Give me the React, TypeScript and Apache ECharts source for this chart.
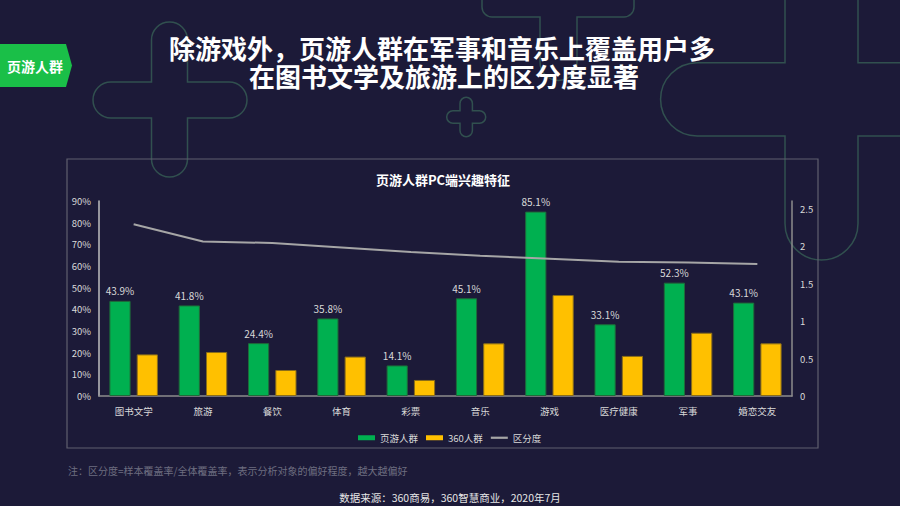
import React, { useEffect, useRef } from "react";
import * as echarts from "echarts";

const categories = ["图书文学", "旅游", "餐饮", "体育", "彩票", "音乐", "游戏", "医疗健康", "军事", "婚恋交友"];
const pageGameUsers = [43.9, 41.8, 24.4, 35.8, 14.1, 45.1, 85.1, 33.1, 52.3, 43.1];
const users360 = [19.2, 20.3, 12.0, 18.2, 7.4, 24.3, 46.6, 18.5, 29.2, 24.3];
const distinction = [2.29, 2.06, 2.04, 1.98, 1.92, 1.87, 1.83, 1.79, 1.78, 1.76];
const seriesNames = ["页游人群", "360人群", "区分度"];

const FONT = "'Noto Sans CJK SC', 'Noto Sans', sans-serif";
const BG = "#1c1a38";
const DECO = "#31504f";

const shapeA =
  "M151.5,40 A18,18 0 0 1 187.5,40 L187.5,82 L229,82 A18,18 0 0 1 229,118 L187.5,118 L187.5,159 A18,18 0 0 1 151.5,159 L151.5,118 L111,118 A18,18 0 0 1 111,82 L151.5,82 Z";
const shapeB =
  "M460,103.5 A6.2,6.2 0 0 1 472.4,103.5 L472.4,110.8 L479.5,110.8 A6.2,6.2 0 0 1 479.5,123.2 L472.4,123.2 L472.4,130.5 A6.2,6.2 0 0 1 460,130.5 L460,123.2 L452.9,123.2 A6.2,6.2 0 0 1 452.9,110.8 L460,110.8 Z";
const shapeC =
  "M482,-5 L482,7 A10,10 0 0 0 492,17 L540,17 L540,62 A18.5,18.5 0 0 0 577,62 L577,17 L624,17 A10,10 0 0 0 634,7 L634,-5";
const shapeD =
  "M785,-5 L785,62.7 L697.2,62.7 A36.6,36.6 0 0 0 697.2,136 L785,136 L785,223.5 A36.5,36.5 0 0 0 858,223.5 L858,136 L905,136 M905,62.7 L858,62.7 L858,-5";

let registered = false;
function registerShapes() {
  if (registered) return;
  registered = true;
  echarts.graphic.registerShape("decoA", echarts.graphic.extendPath(shapeA, {}));
  echarts.graphic.registerShape("decoB", echarts.graphic.extendPath(shapeB, {}));
  echarts.graphic.registerShape("decoC", echarts.graphic.extendPath(shapeC, {}));
  echarts.graphic.registerShape("decoD", echarts.graphic.extendPath(shapeD, {}));
}

function txt(text: string, x: number, y: number, size: number, color: string, weight: string, align: string) {
  return {
    type: "text",
    z: 10,
    style: {
      text,
      x,
      y,
      fill: color,
      fontSize: size,
      fontWeight: weight,
      fontFamily: FONT,
      align,
      textAlign: align,
      verticalAlign: "middle",
      textVerticalAlign: "middle",
    },
  };
}

export default function App() {
  const ref = useRef<HTMLDivElement>(null);
  useEffect(() => {
    document.body.style.margin = "0";
    registerShapes();
    const chart = echarts.init(ref.current!, null, { renderer: "svg" });
    const decoStyle = { fill: "none", stroke: DECO, lineWidth: 1.5 };
    chart.setOption({
      animation: false,
      backgroundColor: BG,
      textStyle: { fontFamily: FONT },
      grid: { left: 99, right: 108, top: 201, bottom: 110, containLabel: false },
      legend: {
        data: [
          { name: seriesNames[0], icon: "rect", itemStyle: { borderWidth: 0 } },
          { name: seriesNames[1], icon: "rect", itemStyle: { borderWidth: 0 } },
          { name: seriesNames[2], icon: "path://M0,0h20v2.6h-20z", itemStyle: { color: "#a6a6a6", borderWidth: 0 } },
        ],
        left: 353,
        top: 428,
        itemWidth: 17,
        itemHeight: 5,
        itemGap: 8,
        textStyle: { color: "#d9d9d9", fontSize: 9.5, fontFamily: FONT },
      },
      xAxis: {
        type: "category",
        data: categories,
        axisTick: { show: false },
        axisLine: { lineStyle: { color: "#8c8c8c", width: 1.5 } },
        axisLabel: { color: "#d9d9d9", fontSize: 9.5, margin: 10, interval: 0, fontFamily: FONT },
      },
      yAxis: [
        {
          type: "value",
          min: 0,
          max: 90,
          interval: 10,
          axisLine: { show: true, lineStyle: { color: "#bfbfbf", width: 1.5 } },
          axisTick: { show: false },
          splitLine: { show: false },
          axisLabel: { color: "#d9d9d9", fontSize: 9.5, margin: 8, formatter: "{value}%", fontFamily: FONT },
        },
        {
          type: "value",
          min: 0,
          max: 2.6,
          interval: 0.5,
          axisLine: { show: true, lineStyle: { color: "#8c8c8c", width: 1.5 } },
          axisTick: { show: false },
          splitLine: { show: false },
          axisLabel: { color: "#d9d9d9", fontSize: 9.5, margin: 8, showMaxLabel: false, fontFamily: FONT },
        },
      ],
      series: [
        {
          name: seriesNames[0],
          type: "bar",
          data: pageGameUsers,
          barGap: "29%",
          barCategoryGap: "30%",
          itemStyle: { color: "#00b050", borderColor: "#1f6b3a", borderWidth: 1 },
          label: {
            show: true,
            position: "top",
            distance: 5,
            color: "#d9d9d9",
            fontSize: 10,
            fontFamily: FONT,
            formatter: (p: any) => `${Number(p.value).toFixed(1)}%`,
          },
          z: 3,
        },
        {
          name: seriesNames[1],
          type: "bar",
          data: users360,
          itemStyle: { color: "#ffc000", borderColor: "#8a6d1a", borderWidth: 1 },
          z: 3,
        },
        {
          name: seriesNames[2],
          type: "line",
          yAxisIndex: 1,
          data: distinction,
          symbol: "none",
          lineStyle: { color: "#a6a6a6", width: 2 },
          itemStyle: { color: "#a6a6a6" },
          z: 4,
        },
      ],
      graphic: [
        { type: "decoA", x: 0, y: 0, z: -5, style: decoStyle },
        { type: "decoB", x: 0, y: 0, z: -5, style: decoStyle },
        { type: "decoC", x: 0, y: 0, z: -5, style: decoStyle },
        { type: "decoD", x: 0, y: 0, z: -5, style: decoStyle },
        {
          type: "rect",
          z: -4,
          shape: { x: 67, y: 159, width: 751, height: 289 },
          style: { fill: "none", stroke: "#5f5f6e", lineWidth: 1.2 },
        },
        {
          type: "polygon",
          z: 5,
          shape: { points: [[0, 44], [66, 44], [72, 65.5], [66, 87], [0, 87]] },
          style: { fill: "#1abf48" },
        },
        txt("页游人群", 35, 65.5, 14, "#ffffff", "bold", "center"),
        txt("除游戏外，页游人群在军事和音乐上覆盖用户多", 442, 47.5, 26, "#ffffff", "bold", "center"),
        txt("在图书文学及旅游上的区分度显著", 444, 75.5, 26, "#ffffff", "bold", "center"),
        txt("页游人群PC端兴趣特征", 443, 179.5, 13, "#ffffff", "bold", "center"),
        txt("注：区分度=样本覆盖率/全体覆盖率，表示分析对象的偏好程度，越大越偏好", 68, 470, 10, "#6e6e80", "normal", "left"),
        txt("数据来源：360商易，360智慧商业，2020年7月", 450, 497, 10.5, "#e6e6e6", "normal", "center"),
      ],
    });
    return () => chart.dispose();
  }, []);
  return (
    <div
      ref={ref}
      style={{ position: "fixed", left: 0, top: 0, width: 900, height: 506, background: BG }}
    />
  );
}
